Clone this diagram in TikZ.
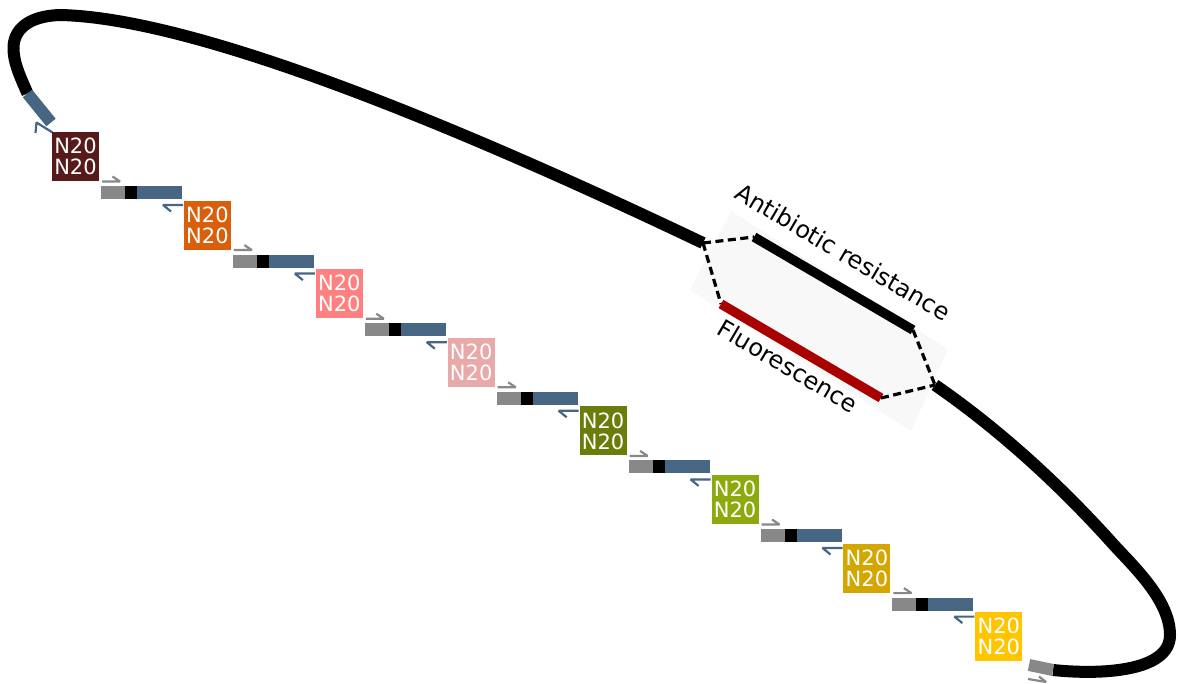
\documentclass[tikz,border=0pt]{standalone}
\usepackage{fontspec}
\setmainfont{DejaVu Sans}
\definecolor{c1}{HTML}{561A1A}
\definecolor{c2}{HTML}{D95F0B}
\definecolor{c3}{HTML}{FF8080}
\definecolor{c4}{HTML}{E8A9A9}
\definecolor{c5}{HTML}{6B7D08}
\definecolor{c6}{HTML}{8CAA0E}
\definecolor{c7}{HTML}{D3A600}
\definecolor{c8}{HTML}{FFC600}
\definecolor{blu}{HTML}{466684}
\definecolor{gry}{HTML}{888888}
\definecolor{redbar}{HTML}{A90000}
\definecolor{bgbox}{HTML}{F8F8F8}
\begin{document}
\begin{tikzpicture}[x=1pt,y=-1pt,
  backbone/.style={line width=12pt, line cap=butt, line join=round},
  nbox/.style={minimum width=47pt, minimum height=49pt, inner sep=0pt, text=white, align=center, font=\fontsize{21}{21}\selectfont},
  harp/.style={line width=2.2pt, line join=bevel, line cap=butt},
  dsh/.style={line width=3.2pt, dash pattern=on 8pt off 4.5pt},
  genebar/.style={line width=9.5pt, line cap=butt},
  lbl/.style={font=\fontsize{24}{24}\selectfont, inner sep=0pt, rotate=-30.5}]
\useasboundingbox (0,0) rectangle (1178,684);

% light background of the cassette
\fill[bgbox] (731,211) -- (948,349) -- (911,431) -- (690,290) -- cycle;

% named points
\coordinate (bEnd) at (51,122.5);
\coordinate (bBeg) at (27.5,93.5);
\coordinate (jL) at (703,243);
\coordinate (jR) at (935,385);
\coordinate (gBeg) at (1053,670);
\coordinate (gEnd) at (1029,665);
\coordinate (abS) at (754,237);
\coordinate (abE) at (913,330);
\coordinate (flS) at (721,304);
\coordinate (flE) at (881,398);

% backbone
\draw[backbone] (bBeg) .. controls (19,74) and (13.5,62) .. (13.5,48)
  .. controls (13.5,30) and (28,16) .. (60,15)
  .. controls (200,18) and (470,132) .. (jL);
\draw[backbone] (jR) .. controls (1000,430) and (1060,485) .. (1113,544)
  .. controls (1133,566) and (1170,600) .. (1170,635)
  .. controls (1170,672) and (1100,675) .. (gBeg);
\draw[backbone, blu] (bBeg) -- (bEnd);
\draw[backbone, gry] (gBeg) -- (gEnd);
\draw[harp, blu] (52.5,132.5) -- (36.5,122.5) -- (35.5,133);
\draw[harp, gry] (1028,679) -- (1046,682) -- (1039,676.5);

% cassette
\draw[dsh] (jL) -- (abS);
\draw[genebar] (abS) -- (abE);
\draw[dsh] (abE) -- (jR);
\draw[dsh] (jL) -- (flS);
\draw[genebar, redbar] (flS) -- (flE);
\draw[dsh] (flE) -- (jR);
\node[lbl] (ab) at (843,252) {Antibiotic resistance};
\node[lbl] (fl) at (788,366) {Fluorescence};

% array
\foreach \i/\c in {0/c1,1/c2,2/c3,3/c4,4/c5,5/c6,6/c7,7/c8} {
  \node[nbox, fill=\c] (n\i) at ({75.5+131.9*\i},{156.5+68.6*\i}) {N20\\N20};
}
\foreach \i in {0,...,6} {
  \pgfmathsetmacro\bx{101+131.9*\i}
  \pgfmathsetmacro\by{186+68.6*\i}
  \fill[gry] (\bx,\by) rectangle ++(24,13);
  \fill[black] (\bx+24,\by) rectangle ++(12,13);
  \fill[blu] (\bx+36,\by) rectangle ++(45,13);
  \draw[harp, gry] (\bx+1,\by-4.5) -- (\bx+19,\by-4.5) -- (\bx+11.5,\by-9.5);
  \draw[harp, blu] (\bx+82,\by+19) -- (\bx+62,\by+19) -- (\bx+70,\by+25.5);
}
\end{tikzpicture}
\end{document}
